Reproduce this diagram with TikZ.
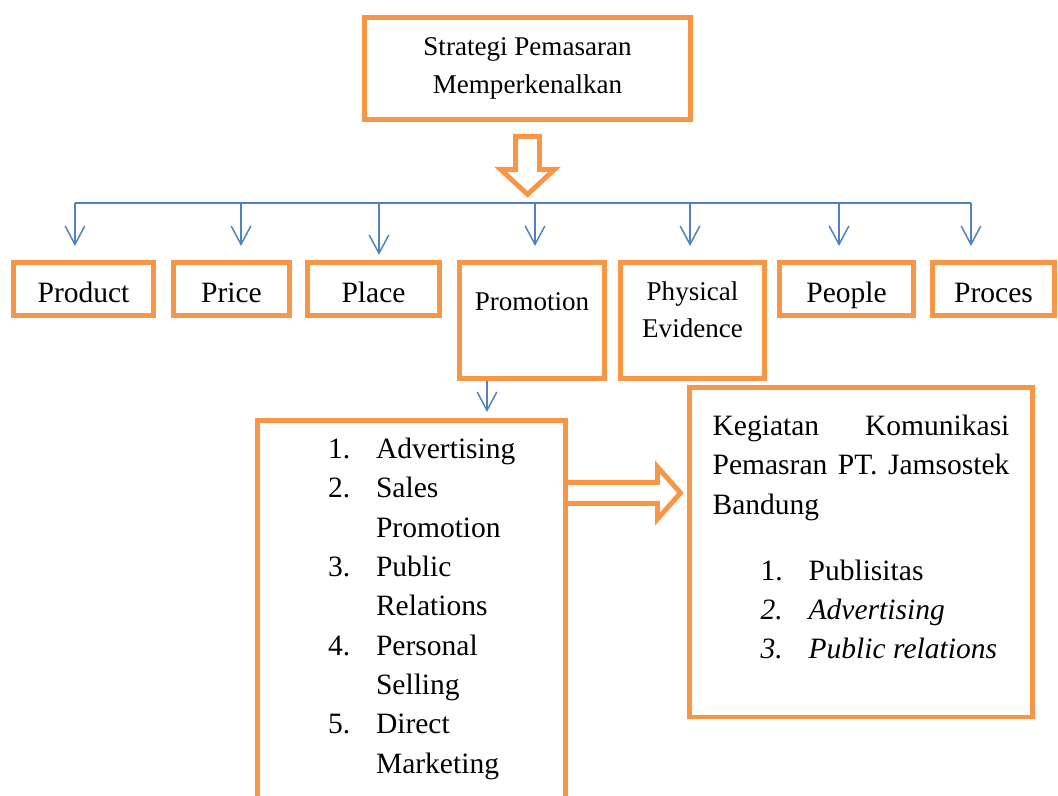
\documentclass[tikz,border=0pt]{standalone}
\usepackage{fontspec}
\setmainfont{Liberation Serif}
\usepackage{tikz}
\usetikzlibrary{positioning}
\usetikzlibrary{arrows.meta,calc}
\usepackage{xcolor}
\definecolor{oranye}{HTML}{F79646}
\definecolor{biru}{HTML}{4F81BD}

\begin{document}
\begin{tikzpicture}[
  kotak/.style={draw=oranye, line width=2pt, inner sep=0pt, align=center},
  kotakkecil/.style={kotak, text height=0.564cm, text depth=0.193cm, font=\fontsize{12}{16}\selectfont},
  kotaktinggi/.style={kotak, anchor=north, font=\fontsize{11}{15}\selectfont},
  garis/.style={draw=biru, line width=0.6pt},
  turun/.style={garis, -{Straight Barb[length=7.5pt,width=8pt]}, shorten >=0.207cm},
  panah/.style={draw=oranye, line width=2pt, line join=miter}
]

\clip (0,0) rectangle (15.114,11.371);

\node[kotak, minimum width=4.657cm, minimum height=1.457cm, font=\fontsize{11}{15.4}\selectfont] (strategi) at (7.536,10.393) {Strategi Pemasaran\\Memperkenalkan};

% panah besar ke bawah
\coordinate (pangkal) at ($(strategi.south)+(0,-0.207)$);
\draw[panah] ($(pangkal)+(-0.171,0)$) -- ++(0,-0.471) -- ++(-0.215,0) -- ++(0.386,-0.357) -- ++(0.386,0.357) -- ++(-0.215,0) -- ++(0,0.471) -- cycle;

% 7P
\node[kotakkecil, minimum width=2cm, anchor=north] (product) at (1.193,7.65) {Product};
\node[kotakkecil, minimum width=1.657cm, anchor=north] (price) at (3.307,7.65) {Price};
\node[kotakkecil, minimum width=1.886cm, anchor=north] (place) at (5.336,7.65) {Place};
\node[kotaktinggi, minimum width=2.071cm, text height=0.686cm, text depth=0.971cm] (promotion) at (7.6,7.65) {Promotion};
\node[kotaktinggi, minimum width=2.057cm, text height=0.536cm, text depth=1.121cm] (evidence) at (9.893,7.65) {\begin{tabular}[t]{@{}c@{}}Physical\\Evidence\end{tabular}};
\node[kotakkecil, minimum width=1.914cm, anchor=north] (people) at (12.093,7.65) {People};
\node[kotakkecil, minimum width=1.743cm, anchor=north] (proces) at (14.193,7.65) {Proces};

\coordinate (tproduct) at (1.071,8.471);
\coordinate (tprice) at (3.443,8.471);
\coordinate (tplace) at (5.414,8.471);
\coordinate (tpromotion) at (7.643,8.471);
\coordinate (tevidence) at (9.857,8.471);
\coordinate (tpeople) at (11.986,8.471);
\coordinate (tproces) at (13.871,8.471);

\draw[garis] (tproduct) -- (tproces);
\draw[turun] (tproduct) -- (tproduct |- product.north);
\draw[turun] (tprice) -- (tprice |- price.north);
\draw[turun, shorten >=0.08cm] (tplace) -- (tplace |- place.north);
\draw[turun] (tpromotion) -- (tpromotion |- promotion.north);
\draw[turun] (tevidence) -- (tevidence |- evidence.north);
\draw[turun] (tpeople) -- (tpeople |- people.north);
\draw[turun] (tproces) -- (tproces |- proces.north);

% bauran promosi
\node[kotak, anchor=north, minimum width=4.4cm, font=\fontsize{12}{16}\selectfont, text height=0.536cm, text depth=5.13cm] (daftar) at (5.879,5.393) {%
\begin{tabular}[t]{@{\hspace{1.007cm}}p{0.686cm}@{}p{2.707cm}@{}}
1. & Advertising\\
2. & Sales\\
   & Promotion\\
3. & Public\\
   & Relations\\
4. & Personal\\
   & Selling\\
5. & Direct\\
   & Marketing
\end{tabular}};

\path (promotion.south) ++(-0.643,0) coordinate (bawah);
\draw[turun, shorten >=0.093cm] (bawah) -- (bawah |- daftar.north);

\node[kotak, anchor=north, minimum width=4.9cm, font=\fontsize{12}{16}\selectfont, text height=0.679cm, text depth=4.021cm] (kegiatan) at (12.3,5.864) {%
\begin{tabular}[t]{@{}p{4.24cm}@{}}
Kegiatan \hfill Komunikasi\\
Pemasran \hfill PT. \hfill Jamsostek\\
Bandung\\[10.8pt]
\hspace*{0.686cm}\makebox[0.686cm][l]{1.}Publisitas\\
\hspace*{0.686cm}\makebox[0.686cm][l]{\textit{2.}}\textit{Advertising}\\
\hspace*{0.686cm}\makebox[0.686cm][l]{\textit{3.}}\textit{Public relations}
\end{tabular}};

% panah besar ke kanan
\coordinate (ekor) at (daftar.north east |- 0,4.329);
\draw[panah] ($(ekor)+(0,0.15)$) -- ++(1.278,0) -- ++(0,0.222) -- ++(0.329,-0.372) -- ++(-0.329,-0.372) -- ++(0,0.222) -- ++(-1.278,0);

\end{tikzpicture}
\end{document}
